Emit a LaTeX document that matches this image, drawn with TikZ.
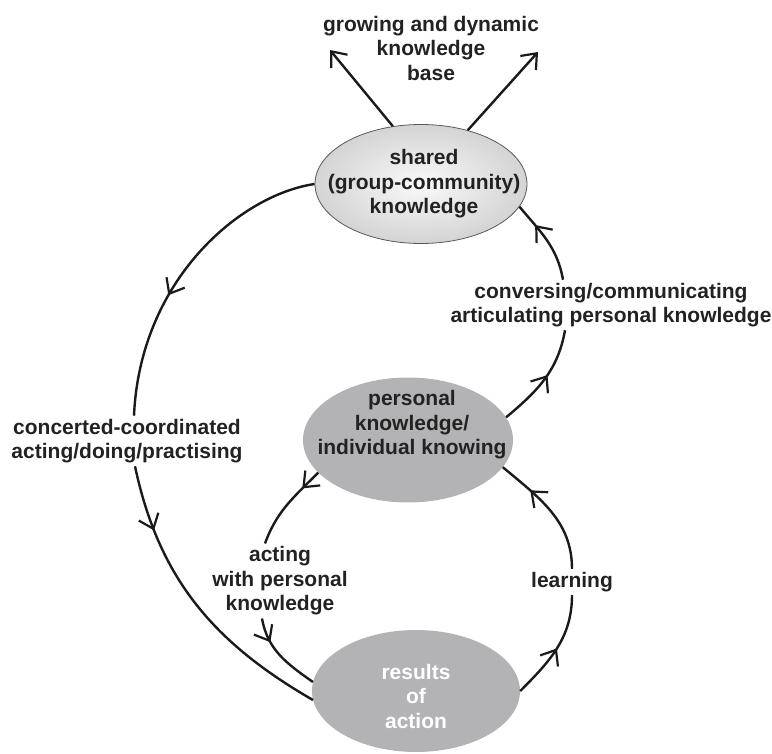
\documentclass[tikz,border=0pt]{standalone}
\usepackage{fontspec}
\setmainfont{Liberation Sans}
\usepackage{tikz}
\usetikzlibrary{calc,arrows.meta,shapes.geometric,decorations.markings,positioning}
\definecolor{txtgray}{HTML}{222222}
\definecolor{blobgray}{HTML}{B3B3B5}
\definecolor{linegray}{HTML}{1A1A1A}

\begin{document}
\begin{tikzpicture}[
  x=1pt, y=1pt,
  font=\fontsize{21}{24.5}\selectfont\bfseries,
  every node/.style={text=txtgray, align=center},
  blob/.style={ellipse, fill=blobgray, inner sep=0pt},
  cue/.style={inner sep=3pt},
  flow/.style={line width=2.4pt, draw=linegray},
  tip/.style={-{Straight Barb[length=13pt,width=21pt,line width=2.2pt]}},
  midtip/.style={postaction={decorate},
    decoration={markings, mark=at position #1 with
      {\arrow{Straight Barb[length=13pt,width=21pt,line width=2.2pt]}}}},
  ]

  \useasboundingbox (0,0) rectangle (772,-754);

  \node (growth) at (431,-48) {growing and dynamic\\knowledge\\base};
  \node[ellipse, inner sep=0pt, minimum width=212pt, minimum height=119pt,
    draw=gray!70!black, line width=.8pt,
    inner color=gray!4, outer color=gray!34] (shared) at (421,-184) {};
  \node (sharedtext) at (424,-184) {shared\\(group-community)\\knowledge};
  \node[blob, minimum width=210pt, minimum height=125pt] (personal) at (408,-440) {};
  \node (personaltext) at (412,-425) {personal\\knowledge/\\individual knowing};
  \node[blob, minimum width=208pt, minimum height=122pt] (results) at (416,-691) {};
  \node[text=white] (resultstext) at (416,-696) {results\\of\\action};

  \node[cue] (concerted) at (127,-441) {concerted-coordinated\\acting/doing/practising};
  \node[cue] (conversing) at (611,-305) {conversing/communicating\\articulating personal knowledge};
  \node[cue] (acting) at (280,-581) {acting\\with personal\\knowledge};
  \node[cue] (learning) at (572,-582) {learning};

  \coordinate (upleft) at (330,-50);
  \coordinate (upright) at (538,-52);

  % growing knowledge base
  \draw[flow, tip] (shared.116) -- (upleft);
  \draw[flow, tip] (shared.49) -- (upright);

  % outer loop
  \draw[flow, midtip=0.6] (shared.west) .. controls (240,-195) and (140,-280) .. ([xshift=7pt]concerted.north);
  \draw[flow, midtip=0.22] ([xshift=8pt]concerted.south) to[out=-78, in=150] (results.185);
  \draw[flow, midtip=0.55] (personal.13) to[out=40, in=-100] ([xshift=-46pt]conversing.south);
  \draw[flow, midtip=0.72] ([xshift=-48pt]conversing.north) to[out=100, in=-50] (shared.-13);

  % inner loop
  \draw[flow, midtip=0.25] (personal.200) to[out=225, in=70] ([xshift=-15pt]acting.north);
  \draw[flow, midtip=0.3] ([xshift=-18pt]acting.south) to[out=-80, in=145] (results.175);
  \draw[flow, midtip=0.5] (results.east) to[out=45, in=-90] (learning.south);
  \draw[flow, midtip=0.72] (learning.north) to[out=90, in=-40] (personal.-16);

\end{tikzpicture}
\end{document}
